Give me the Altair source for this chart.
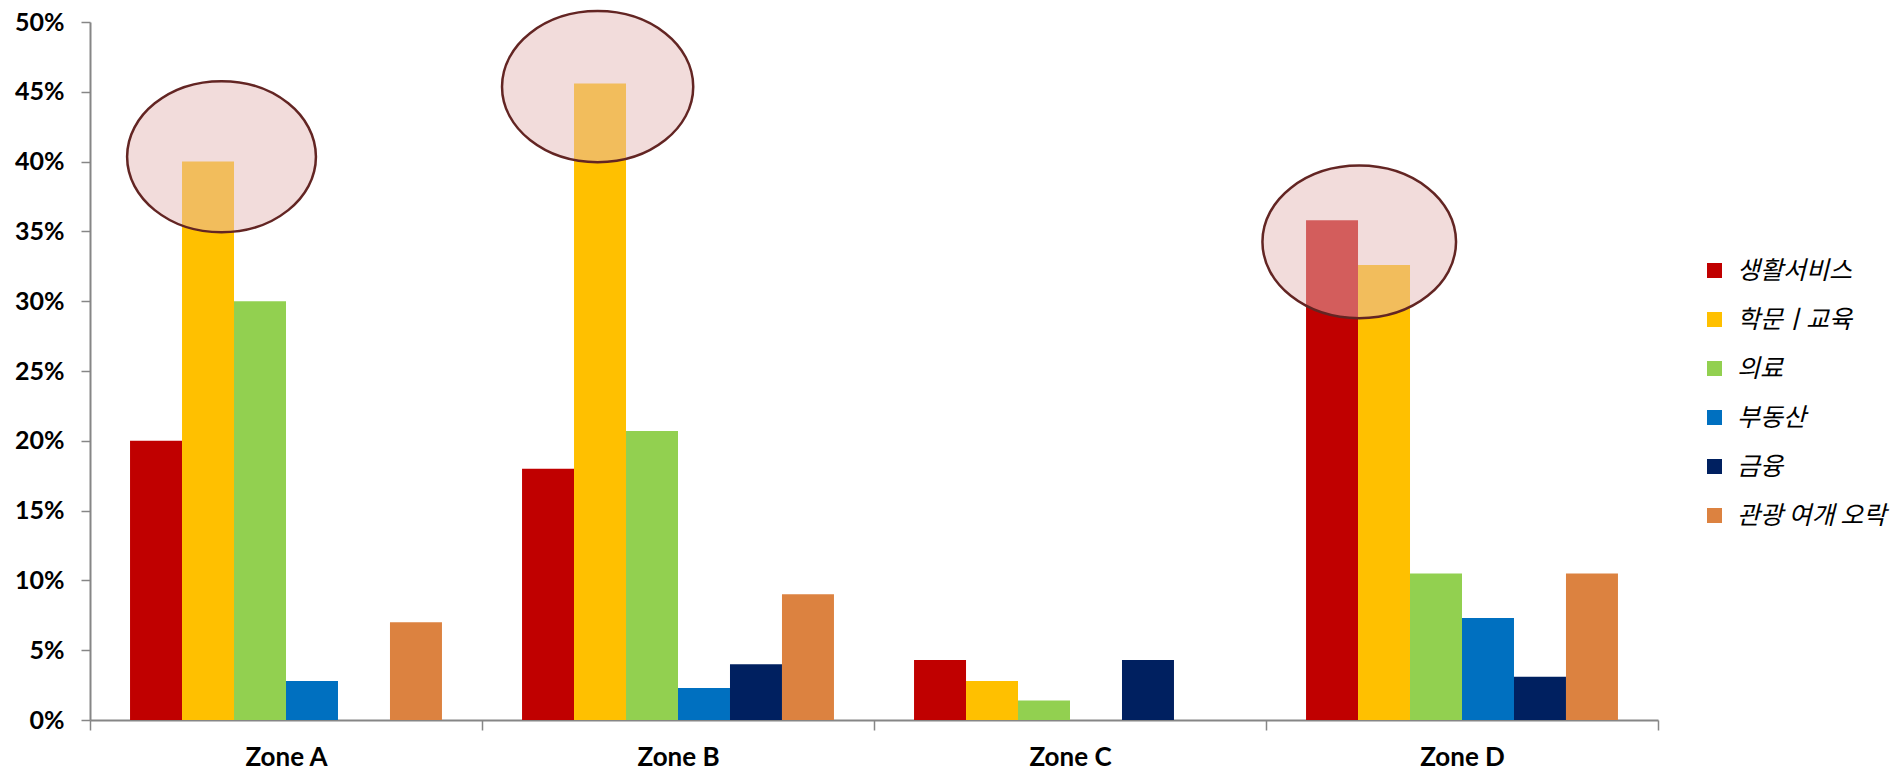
import altair as alt
import pandas as pd

# ---- data ----
zones = ["Zone A", "Zone B", "Zone C", "Zone D"]
series = ["생활서비스", "학문ㅣ교육", "의료", "부동산", "금융", "관광 여개 오락"]
v_life = [0.200, 0.180, 0.043, 0.358]
v_edu = [0.400, 0.456, 0.028, 0.326]
v_med = [0.300, 0.207, 0.014, 0.105]
v_real = [0.028, 0.023, 0.000, 0.073]
v_fin = [0.000, 0.040, 0.043, 0.031]
v_leis = [0.070, 0.090, 0.000, 0.105]
y_ticks = [0, 0.05, 0.10, 0.15, 0.20, 0.25, 0.30, 0.35, 0.40, 0.45, 0.50]

# highlighted spots (annotation ellipses): zone, series anchor, centre value
hl_zone = ["Zone A", "Zone B", "Zone D"]
hl_series = ["학문ㅣ교육", "학문ㅣ교육", "학문ㅣ교육"]
hl_value = [0.4035, 0.4537, 0.3425]

colors = ["#C00000", "#FFC000", "#92D050", "#0070C0", "#002060", "#DC8240"]

all_vals = [v_life, v_edu, v_med, v_real, v_fin, v_leis]
rows = []
for s, vals in zip(series, all_vals):
    for z, v in zip(zones, vals):
        rows.append({"zone": z, "series": s, "value": v})
df = pd.DataFrame(rows)

W, H = 1568, 698

x_enc = alt.X(
    "zone:N", sort=zones,
    scale=alt.Scale(paddingInner=0, paddingOuter=0),
    axis=alt.Axis(
        title=None, labelAngle=0, tickBand="extent",
        labelFont="Lato", labelFontWeight="bold", labelFontSize=26,
        labelColor="black", labelPadding=14,
        domainColor="#868686", domainWidth=2,
        tickColor="#868686", tickWidth=1.5, tickSize=10,
    ),
)
xo_enc = alt.XOffset("series:N", sort=series,
                     scale=alt.Scale(paddingInner=0, paddingOuter=0.77))
y_enc = alt.Y(
    "value:Q",
    scale=alt.Scale(domain=[0, 0.5], nice=False),
    axis=alt.Axis(
        title=None, values=y_ticks, format=".0%", grid=False,
        labelFont="Lato", labelFontWeight="bold", labelFontSize=25,
        labelColor="black", labelPadding=17,
        domainColor="#868686", domainWidth=2,
        tickColor="#868686", tickWidth=1.5, tickSize=9,
    ),
)

bars = alt.Chart(df).mark_bar(strokeWidth=0).encode(
    x=x_enc,
    xOffset=xo_enc,
    y=y_enc,
    color=alt.Color(
        "series:N", sort=series,
        scale=alt.Scale(domain=series, range=colors),
        legend=alt.Legend(
            title=None, orient="none", legendX=1612, legendY=236,
            symbolType="square", symbolSize=225, symbolStrokeWidth=0,
            symbolOpacity=1,
            labelFont="Noto Sans CJK KR", labelFontSize=25,
            labelFontStyle="italic", labelColor="black",
            labelOffset=10, rowPadding=23, padding=0, labelLimit=300,
        ),
    ),
)


def ellipse_path(shift, ratio):
    a, b = -1 + shift, 1 + shift
    return (f"M{a:.3f},0A1,{ratio},0,1,1,{b:.3f},0"
            f"A1,{ratio},0,1,1,{a:.3f},0Z")


ell_shift = [0.143, -0.025, -0.256]   # horizontal shift in shape units
ell_ratio = [0.80, 0.79, 0.788]
ell_size = [35650, 36560, 37480]

layers = [bars]
for z, s, v, sh, ra, sz in zip(hl_zone, hl_series, hl_value,
                                ell_shift, ell_ratio, ell_size):
    d = pd.DataFrame({"zone": [z], "series": [s], "value": [v]})
    layers.append(
        alt.Chart(d).mark_point(
            shape=ellipse_path(sh, ra), size=sz, filled=True,
            fill="#E5B9B7", fillOpacity=0.5, stroke="#632523",
            strokeWidth=2.5, strokeOpacity=1, opacity=1,
        ).encode(
            x=alt.X("zone:N", sort=zones),
            xOffset=alt.XOffset("series:N", sort=series),
            y=alt.Y("value:Q"),
        )
    )

chart = alt.layer(*layers).properties(
    width=W, height=H,
    autosize=alt.AutoSizeParams(type="none"),
    padding={"left": 90, "top": 22, "right": 240, "bottom": 50},
    background="white",
).configure_view(stroke=None)

chart.save("out.html", embed_options={"renderer": "svg", "actions": False})
